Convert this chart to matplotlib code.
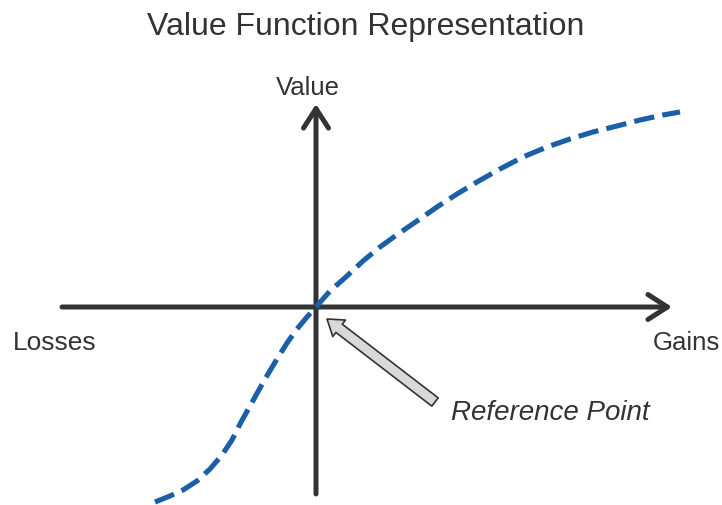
import matplotlib
matplotlib.use("Agg")
import matplotlib.pyplot as plt
import numpy as np

plt.rcParams['font.family'] = ['Liberation Sans', 'DejaVu Sans']

# value function (losses side then gains side)
loss_x = [-1.61, -1.46, -1.33, -1.19, -1.06, -0.94, -0.84, -0.76, -0.66, -0.56,
          -0.48, -0.39, -0.29, -0.19, -0.09]
loss_y = [-1.95, -1.89, -1.83, -1.74, -1.62, -1.48, -1.33, -1.17, -0.99, -0.81,
          -0.67, -0.52, -0.36, -0.22, -0.10]
gain_x = [0.0, 0.14, 0.31, 0.47, 0.64, 0.82, 1.01, 1.21, 1.41, 1.61, 1.84, 2.07,
          2.31, 2.54, 2.77, 3.01, 3.24, 3.47, 3.64]
gain_y = [0.0, 0.16, 0.31, 0.46, 0.60, 0.73, 0.86, 1.00, 1.13, 1.25, 1.38, 1.50,
          1.60, 1.68, 1.75, 1.81, 1.87, 1.92, 1.95]

title = "Value Function Representation"
y_label = "Value"
x_neg_label = "Losses"
x_pos_label = "Gains"
ref_label = "Reference Point"

axis_col = '#333333'
curve_col = '#1a5fa8'

fig = plt.figure(figsize=(7.22, 5.06), dpi=100)
ax = fig.add_axes([0, 0, 1, 1])
ax.set_xlim(-3.16, 4.06)
ax.set_ylim(-1.98, 3.08)
ax.axis('off')

# axes with open arrow heads
axis_arrow = dict(arrowstyle='->,head_length=1.4,head_width=0.9', lw=3.6,
                  color=axis_col, shrinkA=0, shrinkB=0)
ax.annotate('', xy=(3.56, 0), xytext=(-2.54, 0), arrowprops=axis_arrow)
ax.annotate('', xy=(0, 2.03), xytext=(0, -1.87), arrowprops=axis_arrow)

# dashed curve
x = np.array(loss_x + gain_x)
y = np.array(loss_y + gain_y)
ax.plot(x, y, color=curve_col, lw=3.7, dashes=(4, 1.6), dash_capstyle='butt',
        dash_joinstyle='round', zorder=3)

# reference point arrow
ax.annotate('', xy=(0.11, -0.12), xytext=(1.19, -0.95),
            arrowprops=dict(arrowstyle='simple,head_length=1.1,head_width=1.5,tail_width=0.75',
                            fc='#d9d9d9', ec=axis_col, lw=1.2, shrinkA=0, shrinkB=0))

ax.text(0.50, 2.73, title, ha='center', va='baseline', fontsize=23, color=axis_col)
ax.text(-0.08, 2.13, y_label, ha='center', va='baseline', fontsize=18.5, color=axis_col)
ax.text(-3.03, -0.42, x_neg_label, ha='left', va='baseline', fontsize=19, color=axis_col)
ax.text(4.04, -0.42, x_pos_label, ha='right', va='baseline', fontsize=18.5, color=axis_col)
ax.text(1.35, -1.12, ref_label, ha='left', va='baseline', fontsize=20,
        style='italic', color=axis_col)

fig.savefig('out.png', dpi=100)
